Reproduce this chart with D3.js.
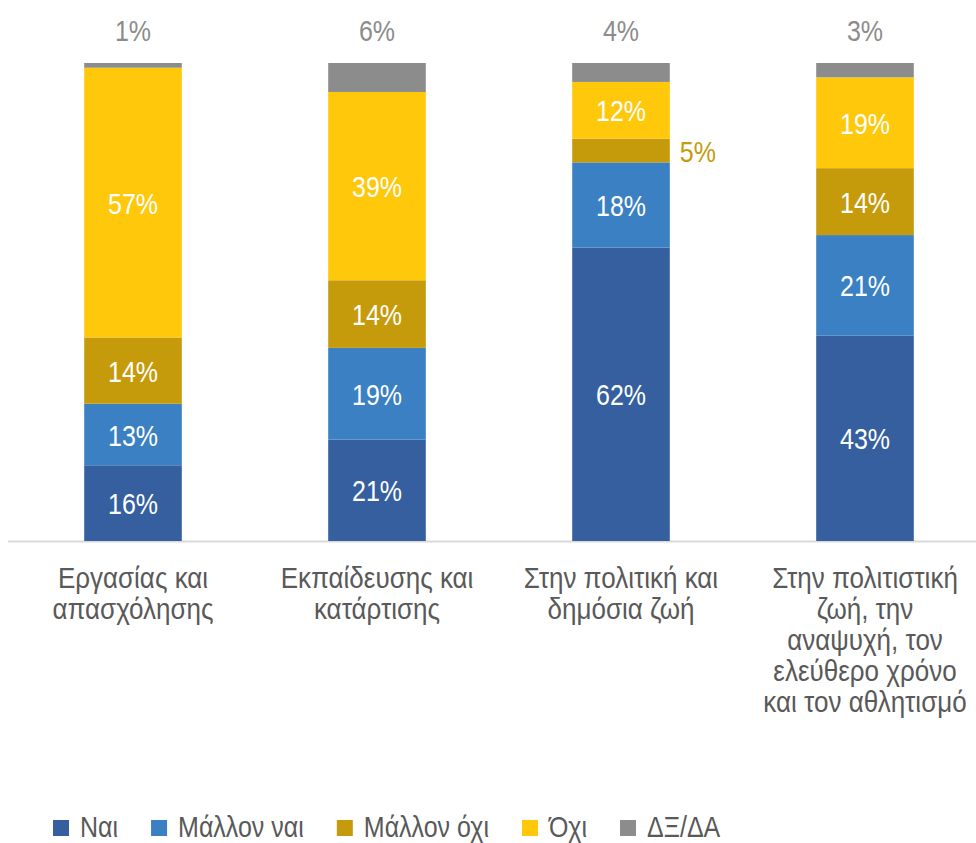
<!DOCTYPE html>
<html>
<head>
<meta charset="utf-8">
<script src="https://cdn.jsdelivr.net/npm/d3@7"></script>
<style>
  body { margin: 0; background: #fff; }
  text { font-family: "Liberation Sans Narrow", "Arial Narrow", "Liberation Sans", sans-serif; }
</style>
</head>
<body>
<div id="chart"></div>
<script>
const categories = [
  ["Εργασίας και", "απασχόλησης"],
  ["Εκπαίδευσης και", "κατάρτισης"],
  ["Στην πολιτική και", "δημόσια ζωή"],
  ["Στην πολιτιστική", "ζωή, την", "αναψυχή, τον", "ελεύθερο χρόνο", "και τον αθλητισμό"]
];
const seriesNames = ["Ναι", "Μάλλον ναι", "Μάλλον όχι", "Όχι", "ΔΞ/ΔΑ"];
const nai        = [16, 21, 62, 43];
const mallonNai  = [13, 19, 18, 21];
const mallonOxi  = [14, 14, 5, 14];
const oxi        = [57, 39, 12, 19];
const dkna       = [1, 6, 4, 3];
const colors = ["#355f9f", "#3a80c3", "#c59b0c", "#ffc80b", "#8c8c8c"];

const width = 976, height = 843;
const margin = {top: 63, bottom: 302};

const data = categories.map((c, i) => ({
  id: i,
  "Ναι": nai[i], "Μάλλον ναι": mallonNai[i], "Μάλλον όχι": mallonOxi[i],
  "Όχι": oxi[i], "ΔΞ/ΔΑ": dkna[i]
}));

const svg = d3.select("#chart").append("svg")
    .attr("width", width)
    .attr("height", height);

const x = d3.scaleBand()
    .domain(data.map(d => d.id))
    .range([11, 987])
    .paddingInner(0.6)
    .paddingOuter(0.3);

const y = d3.scaleLinear()
    .domain([0, 1])
    .range([height - margin.bottom, margin.top]);

const stack = d3.stack().keys(seriesNames).offset(d3.stackOffsetExpand);
const layers = stack(data);

// text is drawn a bit taller than wide, like the original
function label(px, py, str, size, fill, anchor, sy) {
  return svg.append("text")
      .attr("transform", "translate(" + px + "," + py + ") scale(1," + sy + ")")
      .attr("text-anchor", anchor)
      .attr("fill", fill)
      .style("font-size", size + "px")
      .text(str);
}

// axis line
svg.append("line")
    .attr("x1", 8).attr("x2", width)
    .attr("y1", y(0) + 0.5).attr("y2", y(0) + 0.5)
    .attr("stroke", "#d9d9d9").attr("stroke-width", 2);

const g = svg.selectAll(".layer")
    .data(layers)
  .enter().append("g")
    .attr("class", "layer")
    .attr("fill", (d, i) => colors[i]);

g.selectAll("rect")
    .data(d => d)
  .enter().append("rect")
    .attr("x", d => x(d.data.id))
    .attr("width", x.bandwidth())
    .attr("y", d => y(d[1]))
    .attr("height", d => y(d[0]) - y(d[1]));

// value labels
layers.forEach(layer => {
  layer.forEach(d => {
    const v = d.data[layer.key];
    const cx = x(d.data.id) + x.bandwidth() / 2;
    let tx = cx, ty = (y(d[0]) + y(d[1])) / 2 + 11, fill = "#fff", anchor = "middle";
    if (layer.key === "ΔΞ/ΔΑ") { ty = 41; fill = "#8c8c8c"; }
    else if (v < 8) { tx = x(d.data.id) + x.bandwidth() + 10; fill = "#c59b0c"; anchor = "start"; }
    label(tx, ty, v + "%", 25, fill, anchor, 1.2);
  });
});

// category labels
categories.forEach((lines, i) => {
  lines.forEach((l, j) => {
    label(x(i) + x.bandwidth() / 2, 588 + j * 31, l, 26, "#595959", "middle", 1.1);
  });
});

// legend
let lx = 53;
seriesNames.forEach((s, i) => {
  svg.append("rect")
      .attr("x", lx).attr("y", 820)
      .attr("width", 16).attr("height", 16)
      .attr("fill", colors[i]);
  const t = label(lx + 27, 837, s, 25, "#595959", "start", 1.2);
  lx += 27 + t.node().getComputedTextLength() + 33;
});
</script>
</body>
</html>
